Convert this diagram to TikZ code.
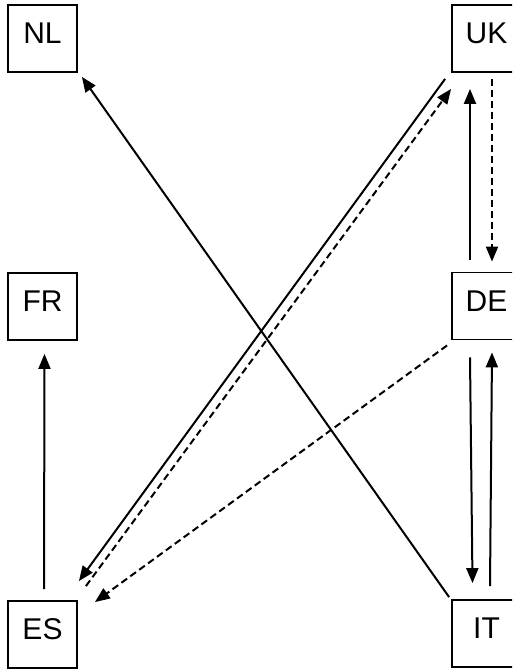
\documentclass[tikz,border=0pt]{standalone}
\usepackage{fontspec}
\setmainfont{Liberation Sans}
\usetikzlibrary{arrows.meta,calc}
\begin{document}
\begin{tikzpicture}[x=1pt,y=-1pt,
  country/.style={draw,line width=1.8pt,minimum width=69pt,minimum height=67pt,inner sep=0pt,
    font=\fontsize{30}{30}\selectfont,text height=21pt,text depth=11pt},
  conn/.style={line width=2pt,-{Triangle[length=15pt,width=12pt]}},
  dconn/.style={conn,dash pattern=on 7pt off 4pt}]
\clip (0,0) rectangle (512,669);
\node[country] (NL) at (42.5,38.5) {NL};
\node[country] (UK) at (486.5,38.5) {UK};
\node[country] (FR) at (42.5,306.5) {FR};
\node[country] (DE) at (486.5,306) {DE};
\node[country] (ES) at (42.5,634.5) {ES};
\node[country] (IT) at (486.5,633.5) {IT};
% IT -> NL
\draw[conn] ($(IT.north west)+(-2,-2)$) -- ($(NL.south east)+(4,4)$);
% UK -> ES solid
\draw[conn] ($(UK.south west)+(-6,6)$) -- ($(ES.north east)+(1,-19)$);
% ES -> UK dashed
\draw[dconn] ($(ES.north east)+(8,-14)$) -- ($(UK.south west)+(0,16)$);
% DE -> ES dashed
\draw[dconn] ($(DE.south west)+(-4,5)$) -- ($(ES.north east)+(17,2)$);
% DE -> UK solid
\draw[conn] ($(DE.north)+(-16.5,-12)$) -- ($(UK.south)+(-16.5,16)$);
% UK -> DE dashed
\draw[dconn] ($(UK.south)+(5.5,6)$) -- ($(DE.north)+(5.5,-10)$);
% DE -> IT solid
\draw[conn] ($(DE.south)+(-16.5,17)$) -- ($(IT.north)+(-14,-16)$);
% IT -> DE solid
\draw[conn] ($(IT.north)+(3.5,-13)$) -- ($(DE.south)+(5.5,12)$);
% ES -> FR
\draw[conn] ($(ES.north)+(1.5,-11)$) -- ($(FR.south)+(2,13)$);
\end{tikzpicture}
\end{document}
